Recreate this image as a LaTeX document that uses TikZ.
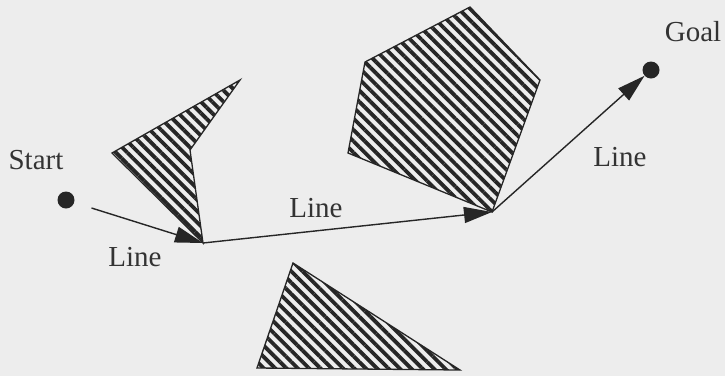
\documentclass[tikz,border=0pt]{standalone}
\usepackage{fontspec}
\setmainfont{Liberation Serif}
\usetikzlibrary{arrows.meta,patterns.meta}

\tikzset{
  obstacle/.style={draw=black!85, line width=1.3pt,
    pattern={Lines[angle=-45,distance=8pt,line width=3.8pt]}, pattern color=black!85},
  waydot/.style={circle, fill=black!85, inner sep=0pt, minimum size=17pt},
  segment/.style={-{Triangle[length=28pt,width=16pt]}, line width=1.4pt, draw=black!85},
  lbl/.style={font=\fontsize{29}{34}\selectfont, text=black!80}
}

\begin{document}
\begin{tikzpicture}[x=1pt, y=-1pt]
    \fill[black!7] (0,0) rectangle (725,376);
    \useasboundingbox (0,0) rectangle (725,376);

    % obstacles
    \draw[obstacle] (240,80) -- (112,153) -- (203,243) -- (190,150) -- cycle;
    \draw[obstacle] (470,7) -- (540,80) -- (492,212) -- (348,153) -- (365,62) -- cycle;
    \draw[obstacle] (293,263) -- (460,370) -- (257,368) -- cycle;

    % start, goal and corners of the path
    \node[waydot] (start) at (66,200) {};
    \node[waydot] (goal) at (651,70) {};
    \coordinate (v1) at (203,243);
    \coordinate (v2) at (492,212);

    \node[lbl] (startlbl) at (36,160) {Start};
    \node[lbl] (goallbl) at (693,32) {Goal};

    \draw[segment, shorten <=18pt] (start) -- (v1);
    \draw[segment] (v1) -- (v2);
    \draw[segment] (v2) -- (goal);

    \node[lbl] (line1) at (135,257) {Line};
    \node[lbl] (line2) at (316,208) {Line};
    \node[lbl] (line3) at (620,157) {Line};
\end{tikzpicture}
\end{document}
